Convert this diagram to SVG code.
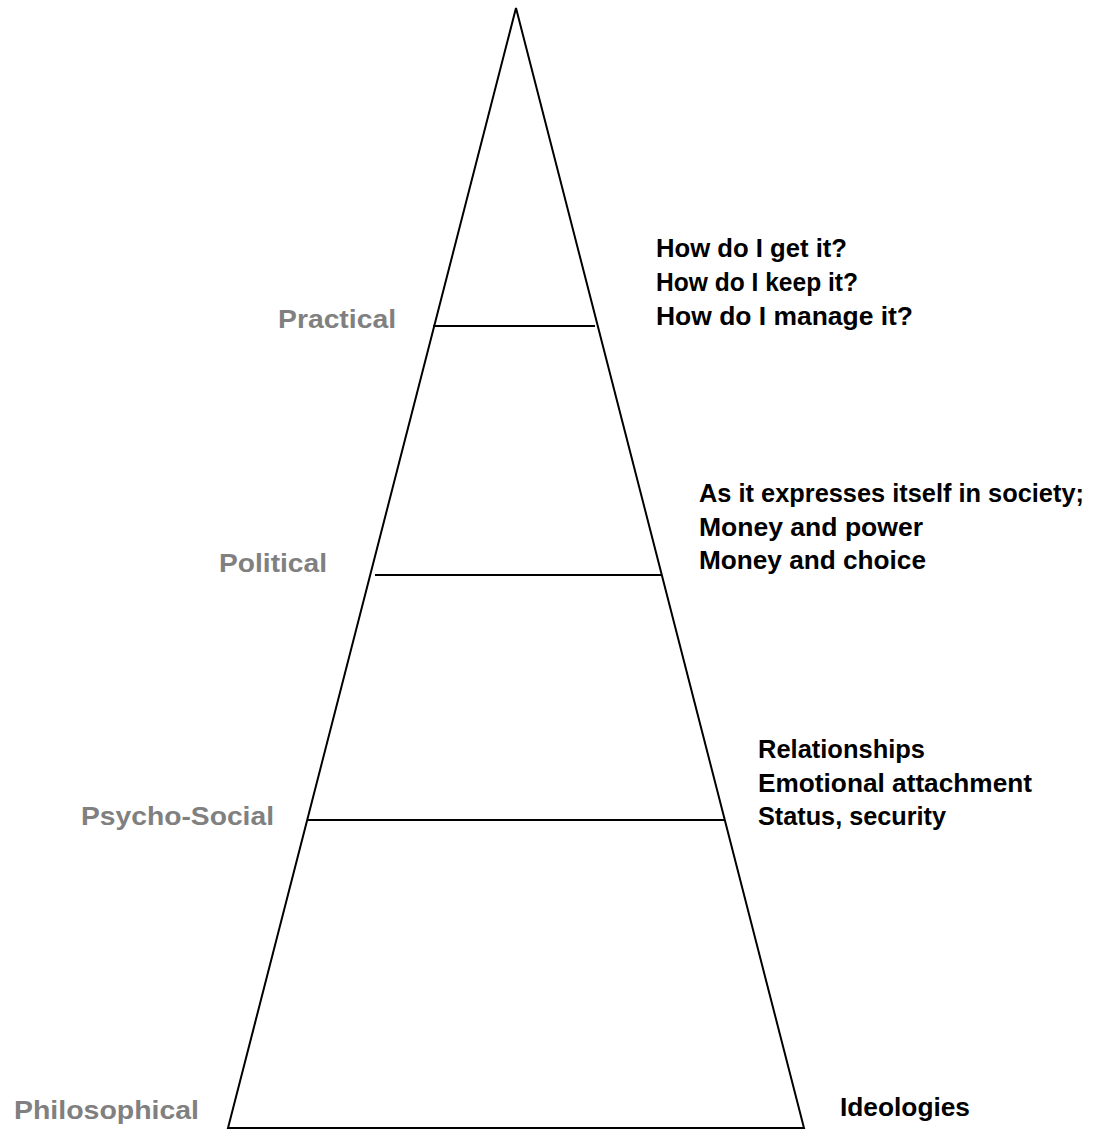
<svg xmlns="http://www.w3.org/2000/svg" width="1099" height="1130" viewBox="0 0 1099 1130">
<style>
.edge{stroke:#000;stroke-width:2;fill:none}
.lvl{font-family:"Liberation Sans",Arial,sans-serif;font-weight:bold;font-size:26px;fill:#808080}
.desc{font-family:"Liberation Sans",Arial,sans-serif;font-weight:bold;font-size:25px;fill:#000}
</style>
<rect width="1099" height="1130" fill="#fff"/>
<g id="connectors">
<path class="edge" d="M228,1128 L516,8 L804,1128 Z"/>
<line class="edge" x1="433" y1="326" x2="595" y2="326"/>
<line class="edge" x1="375" y1="575" x2="661" y2="575"/>
<line class="edge" x1="307" y1="820" x2="724" y2="820"/>
</g>
<g id="practical">
<text class="lvl" x="278" y="328" textLength="118" lengthAdjust="spacingAndGlyphs">Practical</text>
<text class="desc" x="656" y="257" textLength="191" lengthAdjust="spacingAndGlyphs">How do I get it?</text>
<text class="desc" x="656" y="291" textLength="202" lengthAdjust="spacingAndGlyphs">How do I keep it?</text>
<text class="desc" x="656" y="325" textLength="257" lengthAdjust="spacingAndGlyphs">How do I manage it?</text>
</g>
<g id="political">
<text class="lvl" x="219" y="572" textLength="108" lengthAdjust="spacingAndGlyphs">Political</text>
<text class="desc" x="699" y="502" textLength="385" lengthAdjust="spacingAndGlyphs">As it expresses itself in society;</text>
<text class="desc" x="699" y="536" textLength="224" lengthAdjust="spacingAndGlyphs">Money and power</text>
<text class="desc" x="699" y="569" textLength="227" lengthAdjust="spacingAndGlyphs">Money and choice</text>
</g>
<g id="psycho-social">
<text class="lvl" x="81" y="825" textLength="193" lengthAdjust="spacingAndGlyphs">Psycho-Social</text>
<text class="desc" x="758" y="758" textLength="167" lengthAdjust="spacingAndGlyphs">Relationships</text>
<text class="desc" x="758" y="792" textLength="274" lengthAdjust="spacingAndGlyphs">Emotional attachment</text>
<text class="desc" x="758" y="825" textLength="188" lengthAdjust="spacingAndGlyphs">Status, security</text>
</g>
<g id="philosophical">
<text class="lvl" x="14" y="1119" textLength="185" lengthAdjust="spacingAndGlyphs">Philosophical</text>
<text class="desc" x="840" y="1116" textLength="130" lengthAdjust="spacingAndGlyphs">Ideologies</text>
</g>
</svg>
